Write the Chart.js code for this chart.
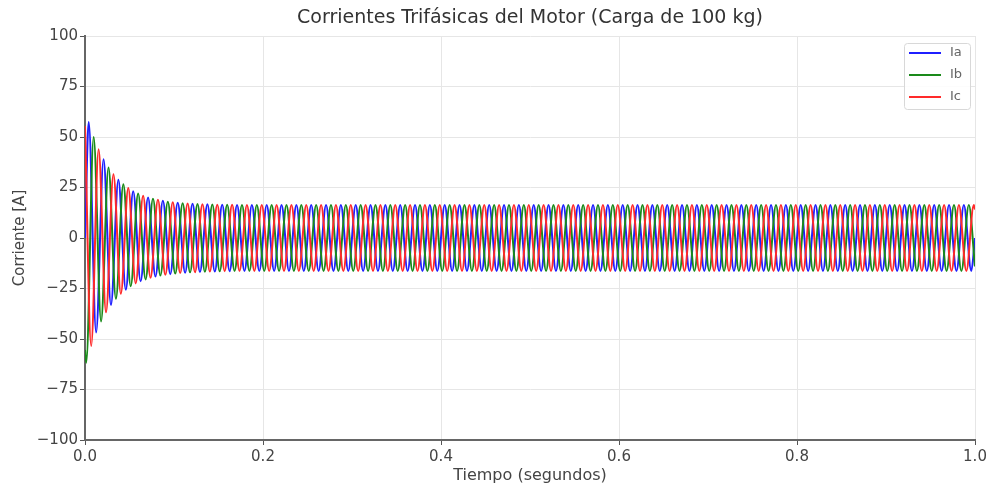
<!DOCTYPE html>
<html>
<head>
<meta charset="utf-8">
<script src="https://cdn.jsdelivr.net/npm/chart.js@4.4.0/dist/chart.umd.min.js"></script>
<style>
  html, body { margin:0; padding:0; background:#fff; }
  #wrap { width:990px; height:487px; }
</style>
</head>
<body>
<div id="wrap"><canvas id="chart" width="990" height="487"></canvas></div>
<script>
/* ── Data (60 Hz, one value per half-cycle peak) ── */
const TITLE         = 'Corrientes Trifásicas del Motor (Carga de 100 kg)';
const SERIES_LABELS = ['Ia', 'Ib', 'Ic'];
const HALF_PERIOD   = 1 / 120;               // s between successive peaks
const FIRST_PEAK    = [1 / 240, 1 / 720, 1 / 144];

// value at t = 0 and t = 1.0 s
const iaEdges = [0, 0];
const ibEdges = [-55.4, -14.1];
const icEdges = [55.4, 14.1];

const iaPeaks = [
  57.4, -46.8, 39.0, -33.1, 28.8, -25.6, 23.2, -21.4, 20.1, -19.1,
  18.4, -17.9, 17.5, -17.2, 16.9, -16.8, 16.7, -16.6, 16.5, -16.4,
  16.3, -16.3, 16.3, -16.3, 16.3, -16.3, 16.3, -16.3, 16.3, -16.3,
  16.3, -16.3, 16.3, -16.3, 16.3, -16.3, 16.3, -16.3, 16.3, -16.3,
  16.3, -16.3, 16.3, -16.3, 16.3, -16.3, 16.3, -16.3, 16.3, -16.3,
  16.3, -16.3, 16.3, -16.3, 16.3, -16.3, 16.3, -16.3, 16.3, -16.3,
  16.3, -16.3, 16.3, -16.3, 16.3, -16.3, 16.3, -16.3, 16.3, -16.3,
  16.3, -16.3, 16.3, -16.3, 16.3, -16.3, 16.3, -16.3, 16.3, -16.3,
  16.3, -16.3, 16.3, -16.3, 16.3, -16.3, 16.3, -16.3, 16.3, -16.3,
  16.3, -16.3, 16.3, -16.3, 16.3, -16.3, 16.3, -16.3, 16.3, -16.3,
  16.3, -16.3, 16.3, -16.3, 16.3, -16.3, 16.3, -16.3, 16.3, -16.3,
  16.3, -16.3, 16.3, -16.3, 16.3, -16.3, 16.3, -16.3, 16.3, -16.3,
];

const ibPeaks = [
  -61.7, 50.0, -41.3, 34.9, -30.1, 26.6, -23.9, 22.0, -20.5, 19.4,
  -18.6, 18.0, -17.6, 17.2, -17.0, 16.8, -16.7, 16.6, -16.5, 16.4,
  -16.3, 16.3, -16.3, 16.3, -16.3, 16.3, -16.3, 16.3, -16.3, 16.3,
  -16.3, 16.3, -16.3, 16.3, -16.3, 16.3, -16.3, 16.3, -16.3, 16.3,
  -16.3, 16.3, -16.3, 16.3, -16.3, 16.3, -16.3, 16.3, -16.3, 16.3,
  -16.3, 16.3, -16.3, 16.3, -16.3, 16.3, -16.3, 16.3, -16.3, 16.3,
  -16.3, 16.3, -16.3, 16.3, -16.3, 16.3, -16.3, 16.3, -16.3, 16.3,
  -16.3, 16.3, -16.3, 16.3, -16.3, 16.3, -16.3, 16.3, -16.3, 16.3,
  -16.3, 16.3, -16.3, 16.3, -16.3, 16.3, -16.3, 16.3, -16.3, 16.3,
  -16.3, 16.3, -16.3, 16.3, -16.3, 16.3, -16.3, 16.3, -16.3, 16.3,
  -16.3, 16.3, -16.3, 16.3, -16.3, 16.3, -16.3, 16.3, -16.3, 16.3,
  -16.3, 16.3, -16.3, 16.3, -16.3, 16.3, -16.3, 16.3, -16.3, 16.3,
];

const icPeaks = [
  -53.5, 43.9, -36.8, 31.5, -27.6, 24.7, -22.5, 20.9, -19.7, 18.9,
  -18.2, 17.7, -17.3, 17.1, -16.9, 16.7, -16.6, 16.5, -16.4, 16.4,
  -16.3, 16.3, -16.3, 16.3, -16.3, 16.3, -16.3, 16.3, -16.3, 16.3,
  -16.3, 16.3, -16.3, 16.3, -16.3, 16.3, -16.3, 16.3, -16.3, 16.3,
  -16.3, 16.3, -16.3, 16.3, -16.3, 16.3, -16.3, 16.3, -16.3, 16.3,
  -16.3, 16.3, -16.3, 16.3, -16.3, 16.3, -16.3, 16.3, -16.3, 16.3,
  -16.3, 16.3, -16.3, 16.3, -16.3, 16.3, -16.3, 16.3, -16.3, 16.3,
  -16.3, 16.3, -16.3, 16.3, -16.3, 16.3, -16.3, 16.3, -16.3, 16.3,
  -16.3, 16.3, -16.3, 16.3, -16.3, 16.3, -16.3, 16.3, -16.3, 16.3,
  -16.3, 16.3, -16.3, 16.3, -16.3, 16.3, -16.3, 16.3, -16.3, 16.3,
  -16.3, 16.3, -16.3, 16.3, -16.3, 16.3, -16.3, 16.3, -16.3, 16.3,
  -16.3, 16.3, -16.3, 16.3, -16.3, 16.3, -16.3, 16.3, -16.3, 16.3,
];

const X_TICKS = [0, 0.2, 0.4, 0.6, 0.8, 1.0];
const Y_TICKS = [-100, -75, -50, -25, 0, 25, 50, 75, 100];

/* ── Style ── */
const COLORS = ['#1f1fff', '#1a8a1a', '#ff2a2a'];
const FONT   = "'DejaVu Sans', sans-serif";
Chart.defaults.font.family = FONT;
Chart.defaults.color       = '#444';

function toPoints(peaks, edges, firstPeak) {
  const pts = [{ x: 0, y: edges[0] }];
  peaks.forEach((v, k) => pts.push({ x: firstPeak + k * HALF_PERIOD, y: v }));
  pts.push({ x: 1, y: edges[1] });
  return pts;
}

const allPeaks = [iaPeaks, ibPeaks, icPeaks];
const allEdges = [iaEdges, ibEdges, icEdges];

const datasets = SERIES_LABELS.map((label, i) => ({
  label,
  data: toPoints(allPeaks[i], allEdges[i], FIRST_PEAK[i]),
  borderColor: COLORS[i],
  backgroundColor: COLORS[i],
  borderWidth: 2,
  pointRadius: 0,
  cubicInterpolationMode: 'monotone',
  order: 3 - i,            // Ic on top, like the reference
}));

/* ── Title centred over the plot area, legend inside it (upper right) ── */
const decorations = {
  id: 'decorations',
  afterDraw(chart) {
    const { ctx, chartArea } = chart;
    ctx.save();
    ctx.fillStyle = '#333';
    ctx.font = `19px ${FONT}`;
    ctx.textAlign = 'center';
    ctx.textBaseline = 'middle';
    ctx.fillText(TITLE, (chartArea.left + chartArea.right) / 2, 18);

    const w = 66, h = 66;
    const x0 = chartArea.right - w - 5, y0 = chartArea.top + 7;
    ctx.fillStyle = 'rgba(255,255,255,0.85)';
    ctx.strokeStyle = '#d8d8d8';
    ctx.lineWidth = 1;
    ctx.beginPath();
    ctx.roundRect(x0 + 0.5, y0 + 0.5, w, h, 3);
    ctx.fill(); ctx.stroke();
    ctx.font = `13px ${FONT}`;
    ctx.textAlign = 'left';
    chart.data.datasets.forEach((ds, i) => {
      const y = y0 + 10 + i * 22;
      ctx.strokeStyle = ds.borderColor;
      ctx.lineWidth = 2;
      ctx.beginPath(); ctx.moveTo(x0 + 5, y); ctx.lineTo(x0 + 37, y); ctx.stroke();
      ctx.fillStyle = '#666';
      ctx.fillText(ds.label, x0 + 46, y);
    });
    ctx.restore();
  },
};

new Chart(document.getElementById('chart'), {
  type: 'line',
  data: { datasets },
  plugins: [decorations],
  options: {
    responsive: false, animation: false,
    layout: { padding: { left: 0, right: 15, top: 36, bottom: 0 } },
    plugins: {
      legend: { display: false },
      tooltip: { enabled: false },
      title: { display: false },
    },
    scales: {
      x: {
        type: 'linear', min: 0, max: 1,
        afterBuildTicks: s => { s.ticks = X_TICKS.map(v => ({ value: v })); },
        afterFit: s => { s.height = 47; },
        grid: { color: '#e6e6e6', tickColor: '#555', tickLength: 5 },
        border: { color: '#666', width: 2 },
        ticks: {
          autoSkip: false, maxRotation: 0, padding: 3,
          font: { size: 15 }, color: '#444',
          callback: v => v.toFixed(1),
        },
        title: {
          display: true, text: 'Tiempo (segundos)', color: '#444',
          font: { size: 16 }, padding: { top: 0, bottom: 2 },
        },
      },
      y: {
        type: 'linear', min: -100, max: 100,
        afterBuildTicks: s => { s.ticks = Y_TICKS.map(v => ({ value: v })); },
        afterFit: s => { s.width = 85; },
        grid: { color: '#e6e6e6', tickColor: '#555', tickLength: 5 },
        border: { color: '#666', width: 2 },
        ticks: {
          padding: 2, font: { size: 15 }, color: '#444',
          callback: v => (v < 0 ? '\u2212' + Math.abs(v) : String(v)),
        },
        title: {
          display: true, text: 'Corriente [A]', color: '#444',
          font: { size: 15 }, padding: { top: 11, bottom: 0 },
        },
      },
    },
  },
});
</script>
</body>
</html>
